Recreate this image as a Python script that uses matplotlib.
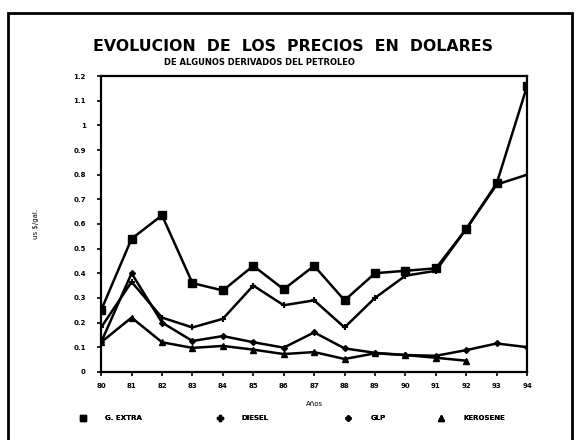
import matplotlib.pyplot as plt
from matplotlib.lines import Line2D
from matplotlib.patches import Rectangle

# Años 1980-1994
anios = list(range(80, 95))
etiquetas = [str(a) for a in anios]

gasolina_extra = [0.25, 0.54, 0.635, 0.36, 0.33, 0.43, 0.335, 0.43, 0.29, 0.40, 0.41, 0.42, 0.58, 0.765, 1.16]
diesel = [0.18, 0.365, 0.22, 0.18, 0.215, 0.35, 0.27, 0.29, 0.18, 0.30, 0.39, 0.41, 0.58, 0.76, 0.80]
glp = [0.12, 0.40, 0.20, 0.125, 0.145, 0.12, 0.098, 0.16, 0.095, 0.077, 0.068, 0.065, 0.088, 0.115, 0.10]
kerosene = [0.12, 0.22, 0.12, 0.097, 0.105, 0.09, 0.072, 0.08, 0.052, 0.075, 0.068, 0.057, 0.045]

y_ticks = [0, 0.1, 0.2, 0.3, 0.4, 0.5, 0.6, 0.7, 0.8, 0.9, 1, 1.1, 1.2]
y_labels = ["0", "0.1", "0.2", "0.3", "0.4", "0.5", "0.6", "0.7", "0.8", "0.9", "1", "1.1", "1.2"]


def main():
    plt.rcParams["font.family"] = "DejaVu Sans"
    plt.rcParams["font.weight"] = "bold"

    fig = plt.figure(figsize=(5.78, 4.4), dpi=100)
    ax = fig.add_axes([0.175, 0.155, 0.737, 0.672])

    estilo = dict(color="black", linewidth=1.8)
    ax.plot(anios, gasolina_extra, marker="s", markersize=5.5, **estilo)
    ax.plot(anios, diesel, marker="+", markersize=4, markeredgewidth=1.5, **estilo)
    ax.plot(anios, glp, marker="D", markersize=3, **estilo)
    ax.plot(anios[:len(kerosene)], kerosene, marker="^", markersize=4, **estilo)

    ax.set_xlim(80, 94)
    ax.set_ylim(0, 1.2)
    ax.set_xticks(anios)
    ax.set_xticklabels(etiquetas, fontsize=5)
    ax.set_yticks(y_ticks)
    ax.set_yticklabels(y_labels, fontsize=5)
    ax.tick_params(axis="x", length=3, width=1.2, pad=5)
    ax.tick_params(axis="y", length=3, width=1.2, pad=8)
    for s in ax.spines.values():
        s.set_linewidth(1.6)

    ax.set_xlabel("Años", fontsize=5, labelpad=9)
    ax.set_ylabel("us $/gal.", fontsize=5, labelpad=25)

    fig.text(0.507, 0.895, "EVOLUCION  DE  LOS  PRECIOS  EN  DOLARES",
             ha="center", va="center", fontsize=11.3, fontweight="bold")
    fig.text(0.448, 0.857, "DE ALGUNOS DERIVADOS DEL PETROLEO",
             ha="center", va="center", fontsize=6, fontweight="bold")

    # leyenda: una entrada por serie, repartidas en la parte inferior
    handles = [
        Line2D([], [], color="black", marker="s", linestyle="none", markersize=4),
        Line2D([], [], color="black", marker="P", linestyle="none", markersize=4),
        Line2D([], [], color="black", marker="D", linestyle="none", markersize=3),
        Line2D([], [], color="black", marker="^", linestyle="none", markersize=4),
    ]
    nombres = ["G. EXTRA", "DIESEL", "GLP", "KEROSENE"]
    x_leyenda = [0.131, 0.368, 0.590, 0.751]
    for h, nombre, xl in zip(handles, nombres, x_leyenda):
        leg = fig.legend([h], [nombre], loc="center left", bbox_to_anchor=(xl, 0.05),
                         frameon=False, fontsize=5, handlelength=2, handletextpad=2.2,
                         borderpad=0, borderaxespad=0)
        fig.add_artist(leg)

    # marco de la pagina
    fig.patches.append(Rectangle((0.014, -0.05), 0.975, 1.02, transform=fig.transFigure,
                                 fill=False, linewidth=2, edgecolor="black"))

    fig.savefig("out.png", dpi=100)
    plt.close(fig)


if __name__ == "__main__":
    main()
